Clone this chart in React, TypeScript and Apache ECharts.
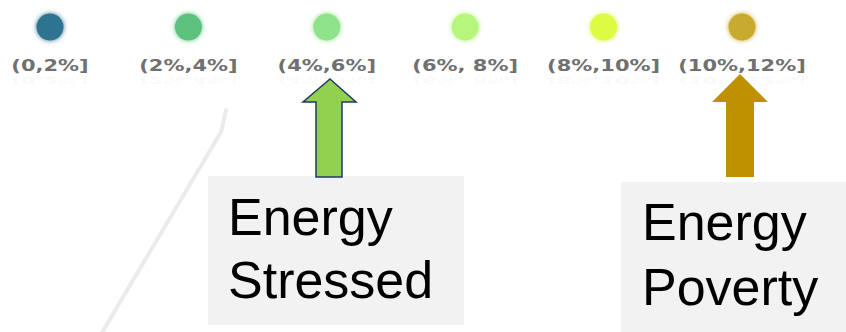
import React, { useEffect, useRef } from "react";
import * as echarts from "echarts";

// Share-of-income bands shown in the key
const bands = ["(0,2%]", "(2%,4%]", "(4%,6%]", "(6%, 8%]", "(8%,10%]", "(10%,12%]"];
const bandColors = ["#2f7390", "#5cc27d", "#8fe38a", "#b6f67b", "#dcfb42", "#c8aa2e"];
const rowName = ["share"];

export default function App() {
  const ref = useRef<HTMLDivElement>(null);

  useEffect(() => {
    if (!ref.current) return;
    const chart = echarts.init(ref.current, null, { renderer: "svg" });

    const data = bands.map((b, i) => [i, 0]);

    chart.setOption({
      animation: false,
      backgroundColor: "#ffffff",
      grid: { left: 50, right: 104, top: 13, height: 28 },
      xAxis: {
        type: "category",
        data: bands,
        boundaryGap: false,
        show: false,
      },
      yAxis: {
        type: "category",
        data: rowName,
        show: false,
      },
      series: [
        {
          type: "custom",
          data,
          renderItem: (params: any, api: any) => {
            const idx = api.value(0);
            const [x, y] = api.coord([idx, api.value(1)]);
            const color = bandColors[idx];
            const label = bands[idx];
            return {
              type: "group",
              children: [
                {
                  type: "circle",
                  shape: { cx: x, cy: y, r: 13.5 },
                  style: { fill: color, shadowBlur: 5, shadowColor: color },
                },
                {
                  type: "text",
                  x,
                  y: y + 39,
                  scaleX: 1.4,
                  style: {
                    text: label,
                    font: 'bold 15px "DejaVu Sans"',
                    fill: "#707070",
                    align: "center",
                    verticalAlign: "middle",
                  },
                },
                {
                  type: "text",
                  x,
                  y: y + 49,
                  scaleX: 1.4,
                  scaleY: -0.6,
                  silent: true,
                  style: {
                    text: label,
                    font: 'bold 15px "DejaVu Sans"',
                    fill: "#aaaaaa",
                    opacity: 0.07,
                    align: "center",
                    verticalAlign: "bottom",
                  },
                },
              ],
            };
          },
        },
      ],
      graphic: [
        {
          type: "polyline",
          shape: { points: [[226, 110], [221, 132], [100, 336]] },
          style: { stroke: "#ebebeb", lineWidth: 4, lineCap: "round", lineJoin: "round", fill: "none" },
        },
        {
          type: "rect",
          shape: { x: 208, y: 176, width: 256, height: 149 },
          style: { fill: "#f2f2f2" },
        },
        {
          type: "rect",
          shape: { x: 621, y: 182, width: 230, height: 150 },
          style: { fill: "#f2f2f2" },
        },
        {
          type: "polygon",
          shape: {
            points: [[330, 79], [356, 102], [342, 102], [342, 177], [316, 177], [316, 102], [303, 102]],
          },
          style: { fill: "#92d050", stroke: "#1f3864", lineWidth: 1.5 },
        },
        {
          type: "polygon",
          shape: {
            points: [[740, 74], [768, 102], [754, 102], [754, 177], [726, 177], [726, 102], [712, 102]],
          },
          style: { fill: "#bf9000" },
        },
        {
          type: "text",
          x: 228,
          y: 217,
          style: { text: "Energy", font: '52px "Liberation Sans"', fill: "#000", verticalAlign: "middle" },
        },
        {
          type: "text",
          x: 228,
          y: 280,
          style: { text: "Stressed", font: '52px "Liberation Sans"', fill: "#000", verticalAlign: "middle" },
        },
        {
          type: "text",
          x: 642,
          y: 222,
          style: { text: "Energy", font: '52px "Liberation Sans"', fill: "#000", verticalAlign: "middle" },
        },
        {
          type: "text",
          x: 642,
          y: 287,
          style: { text: "Poverty", font: '52px "Liberation Sans"', fill: "#000", verticalAlign: "middle" },
        },
      ],
    });

    return () => chart.dispose();
  }, []);

  return (
    <div
      ref={ref}
      style={{ width: 846, height: 332, position: "absolute", left: 0, top: 0 }}
    />
  );
}
